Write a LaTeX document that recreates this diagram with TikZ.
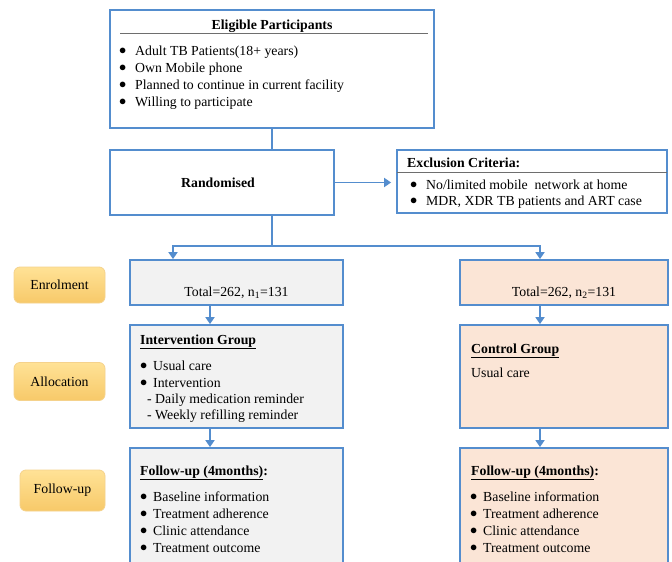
\documentclass[tikz,border=0pt]{standalone}
\usepackage{fontspec}
\setmainfont{Liberation Serif}
\usetikzlibrary{arrows.meta,calc}
\definecolor{bb}{RGB}{84,141,206}
\definecolor{gfill}{RGB}{242,242,242}
\definecolor{pfill}{RGB}{251,229,214}
\definecolor{otop}{RGB}{255,226,150}
\definecolor{obot}{RGB}{247,201,105}
\definecolor{oline}{RGB}{245,210,140}
\definecolor{rulec}{RGB}{110,110,110}
\newcommand\mybul{\raisebox{0.3pt}{$\bullet$}}
\newcommand\bitem[5]{\node[txt] (#1) at (#2,#4) {\makebox[#3pt][l]{\mybul}#5};}
\begin{document}
\begin{tikzpicture}[x=1pt,y=-1pt,
  font=\fontsize{13.8}{16}\selectfont,
  box/.style={draw=bb,line width=1.8pt,rectangle,inner sep=0pt},
  txt/.style={anchor=base west,inner sep=0pt},
  ctxt/.style={anchor=base,inner sep=0pt},
  lab/.style={draw=oline,line width=0.8pt,rounded corners=6pt,top color=otop,bottom color=obot,inner sep=0pt},
  conn/.style={draw=bb,line width=1.8pt},
  arr/.style={draw=bb,line width=1.8pt,-{Triangle[width=9pt,length=7pt]}}]
\useasboundingbox (0,0) rectangle (672,562);
\clip (0,0) rectangle (672,562);
\fill[white] (0,0) rectangle (672,562);

% boxes
\node[box,fill=white,minimum width=324pt,minimum height=118pt] (elig) at (272,69) {};
\node[box,fill=white,minimum width=224pt,minimum height=65pt] (rand) at (222,182.5) {};
\node[box,fill=white,minimum width=270pt,minimum height=63pt] (excl) at (532,181.5) {};
\node[box,fill=gfill,minimum width=213pt,minimum height=45pt] (enrL) at (236.5,282.5) {};
\node[box,fill=pfill,minimum width=208pt,minimum height=45pt] (enrR) at (564,282.5) {};
\node[box,fill=gfill,minimum width=213pt,minimum height=103pt] (intv) at (236.5,376.5) {};
\node[box,fill=pfill,minimum width=208pt,minimum height=103pt] (ctrl) at (564,376.5) {};
\node[box,fill=gfill,minimum width=213pt,minimum height=140pt] (fuL) at (236.5,518) {};
\node[box,fill=pfill,minimum width=208pt,minimum height=140pt] (fuR) at (564,518) {};

% phase labels
\node[lab,minimum width=91pt,minimum height=36pt] (lEnr) at (59.5,285) {Enrolment};
\node[lab,minimum width=91pt,minimum height=38pt] (lAll) at (59.5,381.5) {Allocation};
\node[lab,minimum width=85pt,minimum height=41pt] (lFol) at (62.5,490.5) {Follow-up};

% eligible text
\node[ctxt] (eligT) at (272,29) {\textbf{Eligible Participants}};
\draw[rulec,line width=0.8pt] (120,33) -- (428,33);
\bitem{e1}{119}{16}{55}{Adult TB Patients(18+ years)}
\bitem{e2}{119}{16}{72}{Own Mobile phone}
\bitem{e3}{119}{16}{89}{Planned to continue in current facility}
\bitem{e4}{119}{16}{106}{Willing to participate}

% randomised
\node[ctxt] (randT) at (218,187) {\textbf{Randomised}};

% exclusion
\node[txt] (exT) at (407,167) {\textbf{Exclusion Criteria:}};
\draw[rulec,line width=0.8pt] (397,172) -- (667,172);
\bitem{x1}{410}{16}{189}{No/limited mobile\ \ network at home}
\bitem{x2}{410}{16}{205}{MDR, XDR TB patients and ART case}

% enrolment text
\node[ctxt] (enrLT) at (236.5,296) {Total=262, n\textsubscript{1}=131};
\node[ctxt] (enrRT) at (564,296) {Total=262, n\textsubscript{2}=131};

% intervention
\node[txt] (intT) at (140,344) {\textbf{\underline{Intervention Group}}};
\bitem{i1}{140}{13}{370}{Usual care}
\bitem{i2}{140}{13}{387}{Intervention}
\node[txt] (i3) at (147,403) {- Daily medication reminder};
\node[txt] (i4) at (147,419) {- Weekly refilling reminder};

% control
\node[txt] (ctT) at (471,353) {\textbf{\underline{Control Group}}};
\node[txt] (c1) at (471,377) {Usual care};

% follow-up left
\node[txt] (fLT) at (140,475) {\textbf{\underline{Follow-up (4months)}:}};
\bitem{f1}{140}{13}{501}{Baseline information}
\bitem{f2}{140}{13}{518}{Treatment adherence}
\bitem{f3}{140}{13}{535}{Clinic attendance}
\bitem{f4}{140}{13}{552}{Treatment outcome}

% follow-up right
\node[txt] (fRT) at (471,475) {\textbf{\underline{Follow-up (4months)}:}};
\bitem{g1}{470}{13}{501}{Baseline information}
\bitem{g2}{470}{13}{518}{Treatment adherence}
\bitem{g3}{470}{13}{535}{Clinic attendance}
\bitem{g4}{470}{13}{552}{Treatment outcome}

% connectors
\draw[conn] (elig.south) -- (elig.south |- rand.north);
\draw[arr,shorten >=5pt] (rand.east) -- (rand.east -| excl.west);
\coordinate (sp) at ($(elig.south)+(0,117)$);
\draw[conn] (rand.south -| sp) -- (sp);
\draw[arr] (sp) -| ([xshift=-63.5pt]enrL.north);
\draw[arr] (sp) -| ([xshift=-24pt]enrR.north);
\draw[arr] ([xshift=-26.5pt]enrL.south) -- ([xshift=-26.5pt]intv.north);
\draw[arr] ([xshift=-24pt]enrR.south) -- ([xshift=-24pt]ctrl.north);
\draw[arr] ([xshift=-26.5pt]intv.south) -- ([xshift=-26.5pt]fuL.north);
\draw[arr] ([xshift=-24pt]ctrl.south) -- ([xshift=-24pt]fuR.north);
\end{tikzpicture}
\end{document}
